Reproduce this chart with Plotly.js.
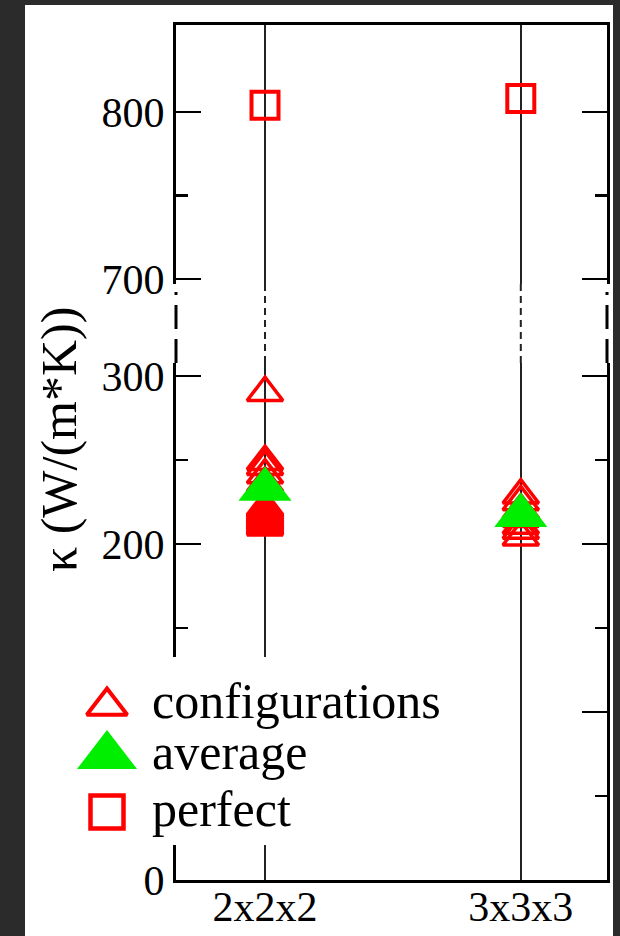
<!DOCTYPE html>
<html>
<head>
<meta charset="utf-8">
<script src="https://cdn.plot.ly/plotly-3.0.1.min.js"></script>
<style>
  html, body { margin: 0; padding: 0; width: 620px; height: 936px; overflow: hidden; background: #2b2b2b; }
  #chart { position: absolute; left: 25px; top: 5px; width: 588px; height: 931px; background: #ffffff; }
</style>
</head>
<body>
<div id="chart"></div>
<script>
// Thermal conductivity per supercell size
const categories = ['2x2x2', '3x3x3'];
const configs222 = [290, 249, 246, 241, 236, 222, 221, 220, 219, 218, 217, 216, 215, 214, 213, 212, 211, 210];
const configs333 = [229, 225, 220, 215, 211, 208, 204];
const averageK = [232.5, 217];
const perfectK = [804, 808];
const legendLabels = ['configurations', 'average', 'perfect'];
const yTitle = 'κ (W/(m*K))';
const yTickVals = [0, 100, 200, 300];
const yTickText = ['0', '', '200', '300'];

// Frame geometry in page pixels (div sits at left 25, top 5)
const DIV_L = 25, PAPER_W = 582;
const FRAME_L = 176, FRAME_B = 880, FRAME_T = 25, FRAME_H = FRAME_B - FRAME_T;
const BREAK_TOP = 284, BREAK_BOTTOM = 363;
const px = x => (x - DIV_L) / PAPER_W;
const py = y => (FRAME_B - y) / FRAME_H;

const FONT = 'Liberation Serif, Times New Roman, serif';
const RED = '#ff0000', GREEN = '#00ee00';

const configX = configs222.map(() => categories[0]).concat(configs333.map(() => categories[1]));
const configY = configs222.concat(configs333);

const traces = [
  { x: configX, y: configY, xaxis: 'x', yaxis: 'y', type: 'scatter', mode: 'markers', showlegend: false,
    marker: { symbol: 'triangle-up-open', size: 31, color: RED, line: { width: 3.5, color: RED } } },
  { x: categories, y: averageK, xaxis: 'x', yaxis: 'y', type: 'scatter', mode: 'markers', showlegend: false,
    marker: { symbol: 'triangle-up', size: 46, color: GREEN, line: { width: 0 } } },
  { x: categories, y: perfectK, xaxis: 'x2', yaxis: 'y2', type: 'scatter', mode: 'markers', showlegend: false,
    marker: { symbol: 'square-open', size: 27, color: RED, line: { width: 4, color: RED } } }
];

// Key: symbols on their own small subplot, page-pixel units
const KEY = { symX: 107, textX: 150, rows: [706, 756, 812], textRows: [701, 752, 809], box: [25, 455, 657, 845] };
const keyStyles = [
  { symbol: 'triangle-up-open', size: 35, color: RED, line: { width: 4, color: RED } },
  { symbol: 'triangle-up', size: 52, color: GREEN, line: { width: 0 } },
  { symbol: 'square-open', size: 33, color: RED, line: { width: 4.5, color: RED } }
];
keyStyles.forEach((m, i) => traces.push({
  x: [KEY.symX], y: [KEY.rows[i]], xaxis: 'x3', yaxis: 'y3', type: 'scatter', mode: 'markers',
  showlegend: false, hoverinfo: 'skip', marker: m
}));

const tickFont = { family: FONT, size: 42, color: '#000' };
const yCommon = {
  showline: true, linewidth: 3, linecolor: '#000', mirror: 'ticks',
  ticks: 'inside', ticklen: 25, tickwidth: 2.5, tickcolor: '#000',
  showgrid: false, zeroline: false, tickfont: tickFont, ticklabelstandoff: 0, fixedrange: true
};

const annotations = legendLabels.map((t, i) => ({
  text: t, xref: 'x3', yref: 'y3', x: KEY.textX, y: KEY.textRows[i],
  xanchor: 'left', yanchor: 'middle', showarrow: false,
  font: { family: FONT, size: 50, color: '#000' }
}));
annotations.push({
  text: yTitle, textangle: -90, xref: 'paper', yref: 'paper', x: px(59), y: py(440),
  xanchor: 'center', yanchor: 'middle', showarrow: false,
  font: { family: FONT, size: 50, color: '#000' }
});

const shapes = [];
// broken frame: dashed side lines across the gap
[px(FRAME_L), px(607)].forEach(x => shapes.push({
  type: 'line', xref: 'paper', yref: 'paper', x0: x, x1: x, y0: py(BREAK_BOTTOM), y1: py(BREAK_TOP + 8),
  line: { color: '#000', width: 3, dash: '24px,10px' }, layer: 'below'
}));
// category guide lines continue dashed through the gap
categories.forEach(c => shapes.push({
  type: 'line', xref: 'x', yref: 'paper', x0: c, x1: c, y0: py(BREAK_BOTTOM), y1: py(BREAK_TOP),
  line: { color: '#222', width: 2, dash: '7px,5px' }, layer: 'below'
}));
// opaque key box
shapes.push({
  type: 'rect', xref: 'x3', yref: 'y3', x0: KEY.box[0], x1: KEY.box[1], y0: KEY.box[2], y1: KEY.box[3],
  fillcolor: '#ffffff', line: { width: 0 }, layer: 'below'
});

const layout = {
  width: 588, height: 931,
  margin: { l: 0, r: 6, t: 20, b: 56, pad: 0 },
  paper_bgcolor: '#ffffff', plot_bgcolor: 'rgba(0,0,0,0)',
  showlegend: false,
  xaxis: {
    type: 'category', domain: [px(FRAME_L), 1], anchor: 'y', range: [-0.348, 1.337],
    showline: true, linewidth: 3, linecolor: '#000', mirror: false, ticks: '',
    showgrid: true, gridcolor: '#222', gridwidth: 2, zeroline: false,
    tickfont: tickFont, ticklabelstandoff: -12, fixedrange: true
  },
  xaxis2: {
    type: 'category', matches: 'x', domain: [px(FRAME_L), 1], anchor: 'y2', side: 'top',
    showline: true, linewidth: 3, linecolor: '#000', mirror: false, ticks: '',
    showgrid: true, gridcolor: '#222', gridwidth: 2, zeroline: false,
    showticklabels: false, fixedrange: true
  },
  yaxis: Object.assign({}, yCommon, {
    domain: [0, py(BREAK_BOTTOM)], anchor: 'x', range: [0, 307.7],
    tickmode: 'array', tickvals: yTickVals, ticktext: yTickText,
    minor: { dtick: 50, tick0: 0, ticks: 'inside', ticklen: 12, tickwidth: 2.5, tickcolor: '#000' }
  }),
  yaxis2: Object.assign({}, yCommon, {
    domain: [py(BREAK_TOP), 1], anchor: 'x2', range: [697, 852],
    tickmode: 'linear', tick0: 0, dtick: 100,
    minor: { tickmode: 'array', tickvals: [750], ticks: 'inside', ticklen: 12, tickwidth: 2.5, tickcolor: '#000' }
  }),
  xaxis3: {
    domain: [0, px(KEY.box[1])], anchor: 'y3', range: [KEY.box[0], KEY.box[1]],
    showline: false, showgrid: false, zeroline: false, showticklabels: false, ticks: '', fixedrange: true
  },
  yaxis3: {
    domain: [py(KEY.box[3]), py(KEY.box[2])], anchor: 'x3', range: [KEY.box[3], KEY.box[2]],
    showline: false, showgrid: false, zeroline: false, showticklabels: false, ticks: '', fixedrange: true
  },
  shapes: shapes,
  annotations: annotations
};

Plotly.newPlot('chart', traces, layout, { staticPlot: true, displayModeBar: false });
</script>
</body>
</html>
